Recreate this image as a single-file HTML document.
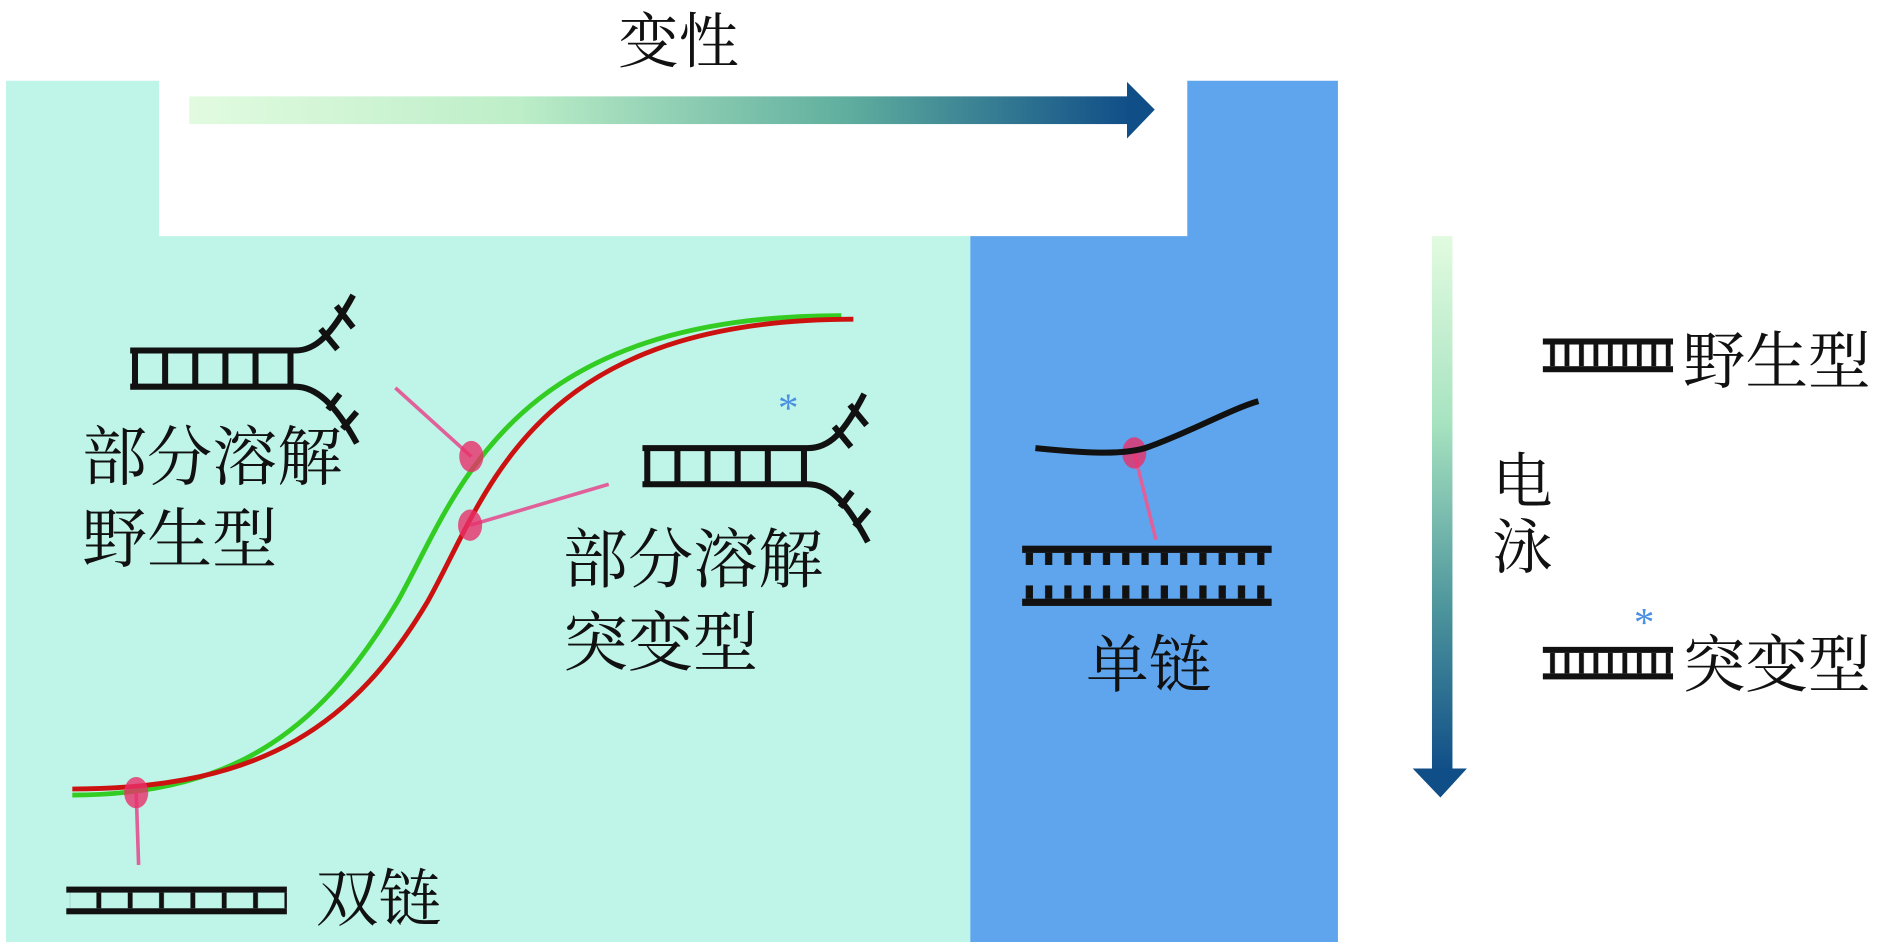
<!DOCTYPE html>
<html><head><meta charset="utf-8"><style>
html,body{margin:0;padding:0;background:#fff;}
svg{display:block;}
text{font-family:"Liberation Serif","Noto Serif CJK SC",serif;fill:#111;}
</style></head><body>
<svg width="1890" height="942" viewBox="0 0 1568 782" preserveAspectRatio="none" xmlns="http://www.w3.org/2000/svg">
<defs>
<linearGradient id="gh" x1="0" x2="1" y1="0" y2="0">
<stop offset="0" stop-color="#e2fbe0"/><stop offset="0.35" stop-color="#bdeec8"/><stop offset="0.7" stop-color="#5fae9e"/><stop offset="1" stop-color="#104e88"/></linearGradient>
<linearGradient id="gv" x1="0" x2="0" y1="0" y2="1">
<stop offset="0" stop-color="#e2fbe0"/><stop offset="0.35" stop-color="#a7e3c0"/><stop offset="0.7" stop-color="#4c949c"/><stop offset="1" stop-color="#104e88"/></linearGradient>
<pattern id="rung" width="26" height="20" patternUnits="userSpaceOnUse"><rect x="2" y="0" width="4" height="20" fill="#111"/></pattern>
<pattern id="rungL" width="12" height="20" patternUnits="userSpaceOnUse"><rect x="2" y="0" width="4" height="20" fill="#111"/></pattern>
<pattern id="comb" width="16" height="20" patternUnits="userSpaceOnUse"><rect x="3" y="0" width="6" height="20" fill="#111"/></pattern>
</defs>
<path d="M5 67 H132 V196 H805 V782 H5 Z" fill="#bff5e8"/>
<path d="M985 67 H1110 V782 H805 V196 H985 Z" fill="#5fa5ee"/>
<rect x="157" y="80" width="780" height="23" fill="url(#gh)"/>
<polygon points="935,68 958,91 935,115" fill="#104e88"/>
<text x="563" y="52" font-size="50" text-anchor="middle">变性</text>
<rect x="1188" y="196" width="17" height="444" fill="url(#gv)"/>
<polygon points="1172,638 1217,638 1195,662" fill="#104e88"/>
<text x="1238" y="417" font-size="50">电</text>
<text x="1238" y="472" font-size="50">泳</text>
<!-- curves -->
<path d="M60 660 C 200 660, 270 600, 330 499 C 380 410, 420 262, 698 262" fill="none" stroke="#33cc22" stroke-width="4"/>
<path d="M60 655 C 220 655, 295 600, 355 499 C 405 410, 440 265, 708 265" fill="none" stroke="#cc1111" stroke-width="4"/>
<!-- pink connectors -->
<g stroke="#e0609a" stroke-width="3">
<line x1="328" y1="322" x2="391" y2="379"/><line x1="505" y1="402" x2="390" y2="436"/>
<line x1="113" y1="658" x2="115" y2="718"/><line x1="941" y1="376" x2="959" y2="448"/></g>
<g fill="#e8306a" fill-opacity="0.8">
<ellipse cx="391" cy="379" rx="10" ry="13"/><ellipse cx="390" cy="436" rx="10" ry="13"/>
<ellipse cx="113" cy="658" rx="10" ry="13"/><ellipse cx="941" cy="376" rx="10" ry="13"/></g>
<!-- ladder 双链 -->
<g fill="#111"><rect x="55" y="736" width="183" height="5"/><rect x="55" y="754" width="183" height="5"/></g>
<rect x="58" y="741" width="180" height="13" fill="url(#rung)"/>
<text x="262" y="764" font-size="52">双链</text>
<!-- partial ladders -->
<g stroke="#111" stroke-width="5" fill="none">
<path d="M108 291 H245 C262 291, 275 278, 293 245"/><path d="M108 321 H245 C262 321, 278 335, 296 368"/>
<path d="M112 291 V321 M137 291 V321 M162 291 V321 M187 291 V321 M212 291 V321 M241 291 V321"/>
<path d="M266 273 L280 290 M279 254 L293 272 M272 340 L282 327 M284 356 L296 342"/>
<path d="M533 372 H670 C688 372, 700 360, 717 327"/><path d="M533 402 H670 C688 402, 702 416, 720 450"/>
<path d="M537 372 V402 M562 372 V402 M587 372 V402 M612 372 V402 M637 372 V402 M667 372 V402"/>
<path d="M692 354 L706 371 M705 336 L719 353 M697 421 L707 408 M709 437 L721 423"/>
</g>
<text x="654" y="350" font-size="34" text-anchor="middle" style="fill:#4a90e2">*</text>
<text x="68" y="398" font-size="54">部分溶解</text>
<text x="68" y="466" font-size="54">野生型</text>
<text x="467" y="483" font-size="54">部分溶解</text>
<text x="467" y="552" font-size="54">突变型</text>
<!-- single strand -->
<path d="M859 372 C 900 376, 930 378, 950 372 C 985 360, 1020 340, 1044 333" fill="none" stroke="#111" stroke-width="5"/>
<rect x="848" y="453" width="207" height="6" fill="#111"/>
<rect x="850" y="459" width="205" height="10" fill="url(#comb)"/>
<rect x="848" y="497" width="207" height="6" fill="#111"/>
<rect x="850" y="486" width="205" height="11" fill="url(#comb)"/>
<text x="953" y="570" font-size="52" text-anchor="middle">单链</text>
<!-- legend -->
<g fill="#111"><rect x="1280" y="281" width="108" height="5"/><rect x="1280" y="304" width="108" height="5"/>
<rect x="1280" y="537" width="108" height="5"/><rect x="1280" y="559" width="108" height="5"/></g>
<rect x="1282" y="286" width="106" height="18" fill="url(#rungL)"/>
<rect x="1282" y="542" width="106" height="17" fill="url(#rungL)"/>
<text x="1396" y="318" font-size="52">野生型</text>
<text x="1396" y="570" font-size="52">突变型</text>
<text x="1364" y="528" font-size="34" text-anchor="middle" style="fill:#4a90e2">*</text>
</svg>
</body></html>
